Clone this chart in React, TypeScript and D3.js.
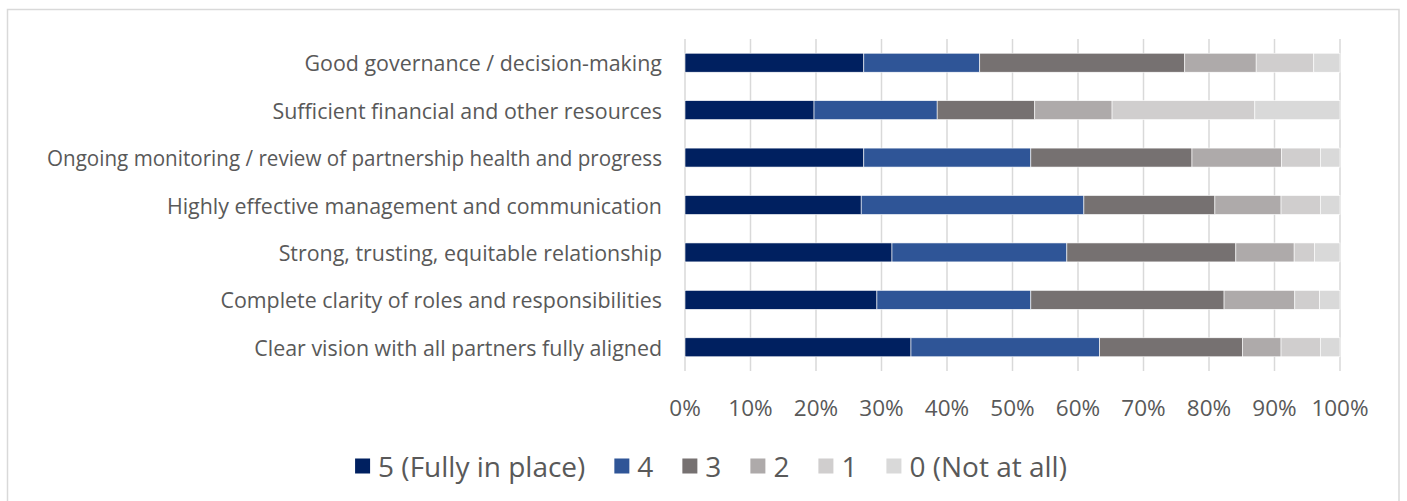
import React, { useEffect, useRef } from "react";
import * as d3 from "d3";

const categories = [
  "Good governance / decision-making",
  "Sufficient financial and other resources",
  "Ongoing monitoring / review of partnership health and progress",
  "Highly effective management and communication",
  "Strong, trusting, equitable relationship",
  "Complete clarity of roles and responsibilities",
  "Clear vision with all partners fully aligned",
];
const seriesNames = ["5 (Fully in place)", "4", "3", "2", "1", "0 (Not at all)"];
const s5 = [27.3, 19.7, 27.3, 26.9, 31.6, 29.3, 34.5];
const s4 = [17.7, 18.8, 25.5, 34.0, 26.7, 23.5, 28.8];
const s3 = [31.3, 14.9, 24.6, 20.0, 25.8, 29.5, 21.8];
const s2 = [10.9, 11.8, 13.7, 10.1, 8.9, 10.8, 5.9];
const s1 = [8.8, 21.8, 5.9, 6.0, 3.1, 3.8, 6.0];
const s0 = [4.0, 13.0, 3.0, 3.0, 3.9, 3.1, 3.0];
const ticks = [0, 10, 20, 30, 40, 50, 60, 70, 80, 90, 100];
const colors = ["#002060", "#2F5597", "#767171", "#AEAAAA", "#D0CECE", "#D9D9D9"];

export default function App() {
  const ref = useRef<SVGSVGElement>(null);
  useEffect(() => {
    const svg = d3.select(ref.current);
    svg.selectAll("*").remove();
    const left = 685, right = 1340, top = 39, bottom = 371;
    const font = "'Open Sans', sans-serif";
    const textColor = "#595959";
    const labelRight = 662, labelMaxW = 615;

    // outer border
    svg.append("rect").attr("x", 7.5).attr("y", 9.5).attr("width", 1391.5).attr("height", 520)
      .attr("fill", "white").attr("stroke", "#D9D9D9").attr("stroke-width", 1.5);

    const x = d3.scaleLinear().domain([0, 100]).range([left, right]);
    const y = d3.scaleBand().domain(categories).range([top, bottom]).paddingInner(0.6).paddingOuter(0.3);

    // gridlines
    svg.append("g").selectAll("line").data(ticks).join("line")
      .attr("x1", (d) => x(d)).attr("x2", (d) => x(d))
      .attr("y1", top).attr("y2", bottom)
      .attr("stroke", "#D9D9D9").attr("stroke-width", 1.5);

    // tick labels
    svg.append("g").selectAll("text").data(ticks).join("text")
      .attr("x", (d) => x(d)).attr("y", 407)
      .attr("text-anchor", "middle").attr("dominant-baseline", "central")
      .attr("font-family", font).attr("font-size", 22.5).attr("fill", textColor)
      .text((d) => d + "%");

    // category labels
    const labels = svg.append("g").selectAll("text").data(categories).join("text")
      .attr("x", labelRight).attr("y", (d) => (y(d) as number) + y.bandwidth() / 2)
      .attr("text-anchor", "end").attr("dominant-baseline", "central")
      .attr("font-family", font).attr("font-size", 21.4).attr("fill", textColor)
      .text((d) => d);
    labels.each(function () {
      const el = this as SVGTextElement;
      if (el.getComputedTextLength() > labelMaxW) {
        d3.select(el).attr("textLength", labelMaxW).attr("lengthAdjust", "spacingAndGlyphs");
      }
    });

    const table = categories.map((c, i) => ({
      cat: c,
      v: [s5[i], s4[i], s3[i], s2[i], s1[i], s0[i]],
    }));
    const rows = table.map((r) => {
      const total = d3.sum(r.v);
      let acc = 0;
      return r.v.map((v, k) => {
        const a = acc;
        acc += (v / total) * 100;
        return { cat: r.cat, k, x0: a, x1: acc };
      });
    });
    svg.append("g").selectAll("rect").data(rows.flat()).join("rect")
      .attr("x", (d) => x(d.x0)).attr("width", (d) => x(d.x1) - x(d.x0))
      .attr("y", (d) => y(d.cat) as number).attr("height", y.bandwidth())
      .attr("fill", (d) => colors[d.k])
      .attr("stroke", "white").attr("stroke-width", 0.6);

    // legend
    const lg = svg.append("g");
    const sq = 15, pad = 8, gap = 29, fs = 28;
    const items = seriesNames.map((n, k) => {
      const g = lg.append("g");
      g.append("rect").attr("x", 0).attr("y", -sq / 2).attr("width", sq).attr("height", sq).attr("fill", colors[k]);
      const t = g.append("text").attr("x", sq + pad).attr("y", 0)
        .attr("dominant-baseline", "central")
        .attr("font-family", font).attr("font-size", fs).attr("fill", textColor).text(n);
      const w = (t.node() as SVGTextElement).getComputedTextLength();
      return { g, w: sq + pad + w };
    });
    const totalW = d3.sum(items, (d) => d.w) + gap * (items.length - 1);
    let cx = 711 - totalW / 2;
    items.forEach((it) => {
      it.g.attr("transform", `translate(${cx},466)`);
      cx += it.w + gap;
    });
  }, []);
  return (
    <svg ref={ref} width={1407} height={501}
      style={{ position: "absolute", left: 0, top: 0, background: "white" }} />
  );
}
